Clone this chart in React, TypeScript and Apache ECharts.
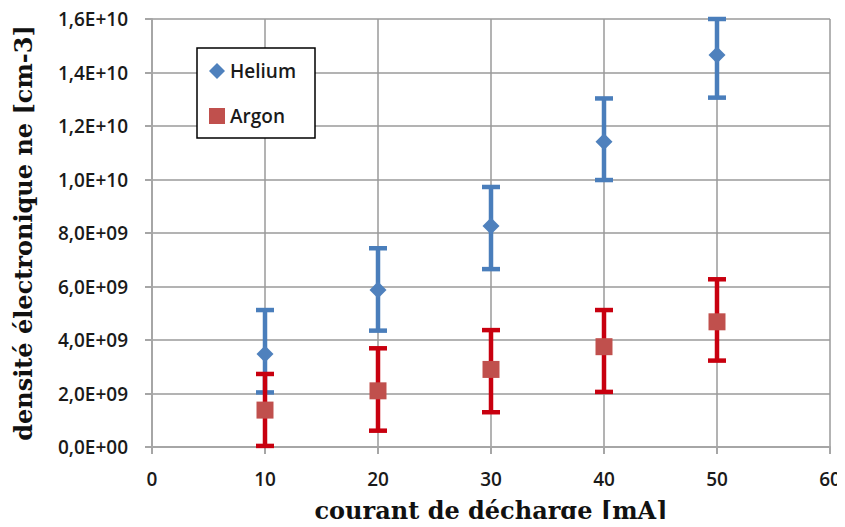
import React, { useEffect, useRef } from "react";
import * as echarts from "echarts";

const currents = [10, 20, 30, 40, 50];
const heliumValues = [3.48e9, 5.87e9, 8.26e9, 11.41e9, 14.65e9];
const heliumLow = [2.04e9, 4.35e9, 6.65e9, 9.98e9, 13.06e9];
const heliumHigh = [5.12e9, 7.43e9, 9.72e9, 13.03e9, 16.0e9];
const argonValues = [1.38e9, 2.1e9, 2.9e9, 3.75e9, 4.68e9];
const argonLow = [0.04e9, 0.61e9, 1.3e9, 2.06e9, 3.23e9];
const argonHigh = [2.73e9, 3.69e9, 4.37e9, 5.12e9, 6.27e9];
const yTickLabels = [
  "0,0E+00",
  "2,0E+09",
  "4,0E+09",
  "6,0E+09",
  "8,0E+09",
  "1,0E+10",
  "1,2E+10",
  "1,4E+10",
  "1,6E+10",
];
const seriesNames = ["Helium", "Argon"];

const HE_MARK = "#4F81BD";
const HE_BAR = "#4A7EBB";
const AR_MARK = "#C0504D";
const AR_BAR = "#C8000F";

function errorSeries(name: string, low: number[], high: number[], color: string) {
  return {
    type: "custom",
    name: name + "_err",
    z: 2,
    data: currents.map((x, i) => [x, low[i], high[i]]),
    encode: { x: 0, y: [1, 2] },
    renderItem: (params: any, api: any) => {
      const x = api.value(0);
      const lo = api.coord([x, api.value(1)]);
      const hi = api.coord([x, api.value(2)]);
      const cap = 9;
      const style = { stroke: color, lineWidth: 4.5, lineCap: "butt" };
      return {
        type: "group",
        children: [
          { type: "line", shape: { x1: lo[0], y1: lo[1], x2: hi[0], y2: hi[1] }, style },
          { type: "line", shape: { x1: hi[0] - cap, y1: hi[1], x2: hi[0] + cap, y2: hi[1] }, style },
          { type: "line", shape: { x1: lo[0] - cap, y1: lo[1], x2: lo[0] + cap, y2: lo[1] }, style },
        ],
      };
    },
  };
}

export default function App() {
  const ref = useRef<HTMLDivElement>(null);
  useEffect(() => {
    if (!ref.current) return;
    const chart = echarts.init(ref.current, undefined, { renderer: "svg" });
    const labelFont = { fontFamily: "Open Sans", fontSize: 19, fontWeight: 600, color: "#1a1a1a" };
    const titleFont = { fontFamily: "DejaVu Serif", fontWeight: "bold", fontSize: 24, color: "#111" };
    chart.setOption({
      animation: false,
      backgroundColor: "#ffffff",
      grid: {
        left: 152,
        right: 15,
        top: 19,
        bottom: 80,
        containLabel: false,
        outerBoundsMode: "none",
      },
      legend: {
        orient: "vertical",
        left: 197,
        top: 48,
        padding: [13, 13, 12, 12],
        itemGap: 25,
        itemWidth: 16,
        itemHeight: 16,
        backgroundColor: "#ffffff",
        borderColor: "#000000",
        borderWidth: 1.5,
        borderRadius: 0,
        textStyle: {
          fontFamily: "Open Sans",
          fontSize: 19,
          fontWeight: 600,
          lineHeight: 20,
          color: "#1a1a1a",
          width: 72,
        },
        data: [
          { name: seriesNames[0], icon: "diamond" },
          { name: seriesNames[1], icon: "rect" },
        ],
      },
      xAxis: {
        type: "value",
        min: 0,
        max: 60,
        interval: 10,
        name: "courant de décharge [mA]",
        nameLocation: "middle",
        nameGap: 51,
        nameTextStyle: titleFont,
        axisLine: { show: true, lineStyle: { color: "#A6A6A6", width: 2 } },
        axisTick: { show: true, length: 7, lineStyle: { color: "#A6A6A6", width: 2 } },
        axisLabel: { ...labelFont, margin: 22 },
        splitLine: { show: true, lineStyle: { color: "#9A9A9A", width: 1.5 } },
      },
      yAxis: {
        type: "value",
        min: 0,
        max: 1.6e10,
        interval: 2e9,
        name: "densité électronique ne [cm-3]",
        nameLocation: "middle",
        nameGap: 117,
        nameTextStyle: titleFont,
        axisLine: { show: true, lineStyle: { color: "#A6A6A6", width: 2 } },
        axisTick: { show: true, length: 7, lineStyle: { color: "#A6A6A6", width: 2 } },
        axisLabel: {
          ...labelFont,
          margin: 24,
          formatter: (v: number) => yTickLabels[Math.round(v / 2e9)],
        },
        splitLine: { show: true, lineStyle: { color: "#9A9A9A", width: 1.5 } },
      },
      series: [
        errorSeries(seriesNames[0], heliumLow, heliumHigh, HE_BAR),
        errorSeries(seriesNames[1], argonLow, argonHigh, AR_BAR),
        {
          type: "scatter",
          name: seriesNames[0],
          symbol: "diamond",
          symbolSize: 17,
          z: 3,
          itemStyle: { color: HE_MARK, opacity: 1 },
          data: currents.map((x, i) => [x, heliumValues[i]]),
        },
        {
          type: "scatter",
          name: seriesNames[1],
          symbol: "rect",
          symbolSize: 17,
          z: 3,
          itemStyle: { color: AR_MARK, opacity: 1 },
          data: currents.map((x, i) => [x, argonValues[i]]),
        },
      ],
    });
    return () => chart.dispose();
  }, []);
  return <div ref={ref} style={{ width: 845, height: 527, margin: -8 }} />;
}
